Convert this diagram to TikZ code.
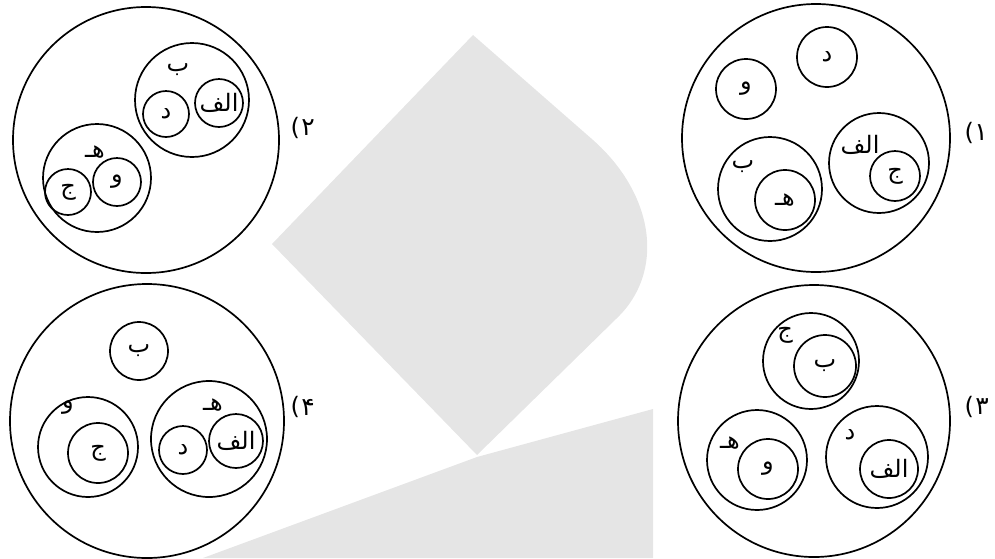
\documentclass[tikz,border=0pt]{standalone}
\usepackage{fontspec}
\TeXXeTstate=1
\newfontfamily\arabicfont[Script=Arabic]{DejaVu Sans}
\newfontfamily\plainfont{DejaVu Sans}
\newcommand\artxt[1]{{\arabicfont\beginR #1\endR}}
\tikzset{
  ring/.style={draw, circle, line width=1.7pt, inner sep=0pt, minimum size=#1},
  lbl/.style={font=\arabicfont\fontsize{24}{28}\selectfont, inner sep=0pt},
  num/.style={font=\arabicfont\fontsize{25}{28}\selectfont, inner sep=0pt},
  paren/.style={font=\plainfont\fontsize{24}{28}\selectfont, inner sep=0pt, anchor=east},
  wm/.style={fill=gray!20, draw=none}
}
\begin{document}
\begin{tikzpicture}[x=1pt, y=-1pt]
\useasboundingbox (0,0) rectangle (995,558);
% watermark
\fill[wm] (473,35) -- (593,140) .. controls (655,195) and (665,272) .. (617,318)
  -- (477,455) -- (272,244) -- cycle;
\fill[wm] (203,558) -- (477,457) -- (653,409) -- (653,558) -- cycle;

% ---------- Diagram 1 (top right)
\node[ring=268pt] (o1) at (816,138) {};
\node[ring=60pt, lbl] (d1) at (827,57) {\artxt{د}};
\node[ring=60pt, lbl] (v1) at (746,89) {\artxt{و}};
\node[ring=100pt] (a1) at (879,163) {};
\node[lbl] (a1t) at (860,145) {\artxt{الف}};
\node[ring=50pt, lbl] (j1) at (895,176) {\artxt{ج}};
\node[ring=104pt] (b1) at (770,189) {};
\node[lbl] (b1t) at (743,167) {\artxt{ب}};
\node[ring=60pt, lbl] (h1) at (785,200) {\artxt{هـ}};
\node[num] (n1) at (981,133) {۱};
\node[paren] (p1) at (n1.west) {(};

% ---------- Diagram 2 (top left)
\node[ring=266pt] (o2) at (146,140) {};
\node[ring=114pt] (b2) at (192,100) {};
\node[lbl] (b2t) at (178,70) {\artxt{ب}};
\node[ring=48pt, lbl] (a2) at (219,103) {\artxt{الف}};
\node[ring=46pt, lbl] (d2) at (166,114) {\artxt{د}};
\node[ring=108pt] (h2) at (97,178) {};
\node[lbl] (h2t) at (95,152) {\artxt{هـ}};
\node[ring=48pt, lbl] (v2) at (117,182) {\artxt{و}};
\node[ring=46pt, lbl] (j2) at (68,192) {\artxt{ج}};
\node[num] (n2) at (308,128) {۲};
\node[paren] (p2) at ([xshift=-1pt]n2.west) {(};

% ---------- Diagram 3 (bottom right)
\node[ring=272pt] (o3) at (814,421) {};
\node[ring=96pt] (j3) at (811,361) {};
\node[lbl] (j3t) at (785,335) {\artxt{ج}};
\node[ring=62pt, lbl] (b3) at (825,366) {\artxt{ب}};
\node[ring=100pt] (h3) at (757,460) {};
\node[lbl] (h3t) at (730,443) {\artxt{هـ}};
\node[ring=60pt, lbl] (v3) at (768,469) {\artxt{و}};
\node[ring=102pt] (d3) at (877,457) {};
\node[lbl] (d3t) at (850,435) {\artxt{د}};
\node[ring=58pt, lbl] (a3) at (889,469) {\artxt{الف}};
\node[num] (n3) at (982,407) {۳};
\node[paren] (p3) at ([xshift=-1pt]n3.west) {(};

% ---------- Diagram 4 (bottom left)
\node[ring=274pt] (o4) at (147,421) {};
\node[ring=58pt, lbl] (b4) at (139,351) {\artxt{ب}};
\node[ring=100pt] (v4) at (88,447) {};
\node[lbl] (v4t) at (68,408) {\artxt{و}};
\node[ring=60pt, lbl] (j4) at (98,453) {\artxt{ج}};
\node[ring=116pt] (h4) at (209,439) {};
\node[lbl] (h4t) at (213,405) {\artxt{هـ}};
\node[ring=54pt, lbl] (a4) at (236,441) {\artxt{الف}};
\node[ring=48pt, lbl] (d4) at (183,450) {\artxt{د}};
\node[num] (n4) at (308,407) {۴};
\node[paren] (p4) at ([xshift=-1pt]n4.west) {(};
\end{tikzpicture}
\end{document}
